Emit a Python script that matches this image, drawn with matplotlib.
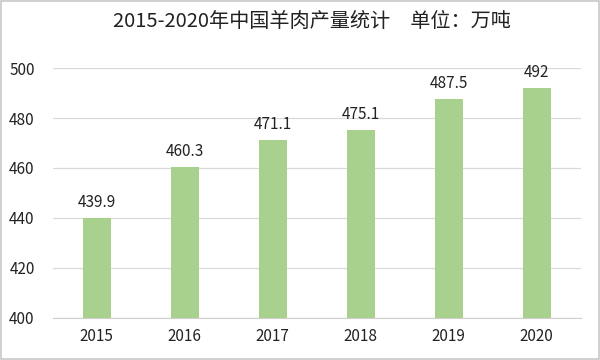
import matplotlib
matplotlib.use("Agg")
import matplotlib.pyplot as plt
from matplotlib.patches import Rectangle

plt.rcParams['font.family'] = ['Noto Sans CJK SC', 'DejaVu Sans']

years = ["2015", "2016", "2017", "2018", "2019", "2020"]
values = [439.9, 460.3, 471.1, 475.1, 487.5, 492]
value_labels = ["439.9", "460.3", "471.1", "475.1", "487.5", "492"]
yticks = [400, 420, 440, 460, 480, 500]
title = "2015-2020年中国羊肉产量统计　单位：万吨"

fig = plt.figure(figsize=(6, 3.6), dpi=100)
ax = fig.add_axes([0.088, 0.117, 0.88, 0.694])

x = list(range(len(years)))
bars = ax.bar(x, [v - 400 for v in values], bottom=400, width=0.32,
              color="#a9d18e", zorder=3)
for xi, v, lab in zip(x, values, value_labels):
    ax.annotate(lab, (xi, v), xytext=(0, 5), textcoords="offset points",
                ha="center", va="bottom", fontsize=11, color="#222222")

ax.set_ylim(400, 500)
ax.set_xlim(-0.5, len(years) - 0.5)
ax.set_yticks(yticks)
ax.set_xticks(x)
ax.set_xticklabels(years)
ax.grid(axis="y", color="#d9d9d9", linewidth=0.9, zorder=0)
for s in ["top", "right", "left"]:
    ax.spines[s].set_visible(False)
ax.spines["bottom"].set_color("#d0d0d0")
ax.tick_params(axis="both", length=0, labelsize=11, colors="#222222")
ax.tick_params(axis="x", pad=7)
ax.tick_params(axis="y", pad=13)

fig.text(0.52, 0.94, title, ha="center", va="center", fontsize=14.5, color="#222222")
fig.patches.append(Rectangle((0.002, 0.003), 0.996, 0.994, transform=fig.transFigure,
                             fill=False, edgecolor="#c8c8c8", linewidth=1.2))

fig.savefig("out.png", dpi=100)
